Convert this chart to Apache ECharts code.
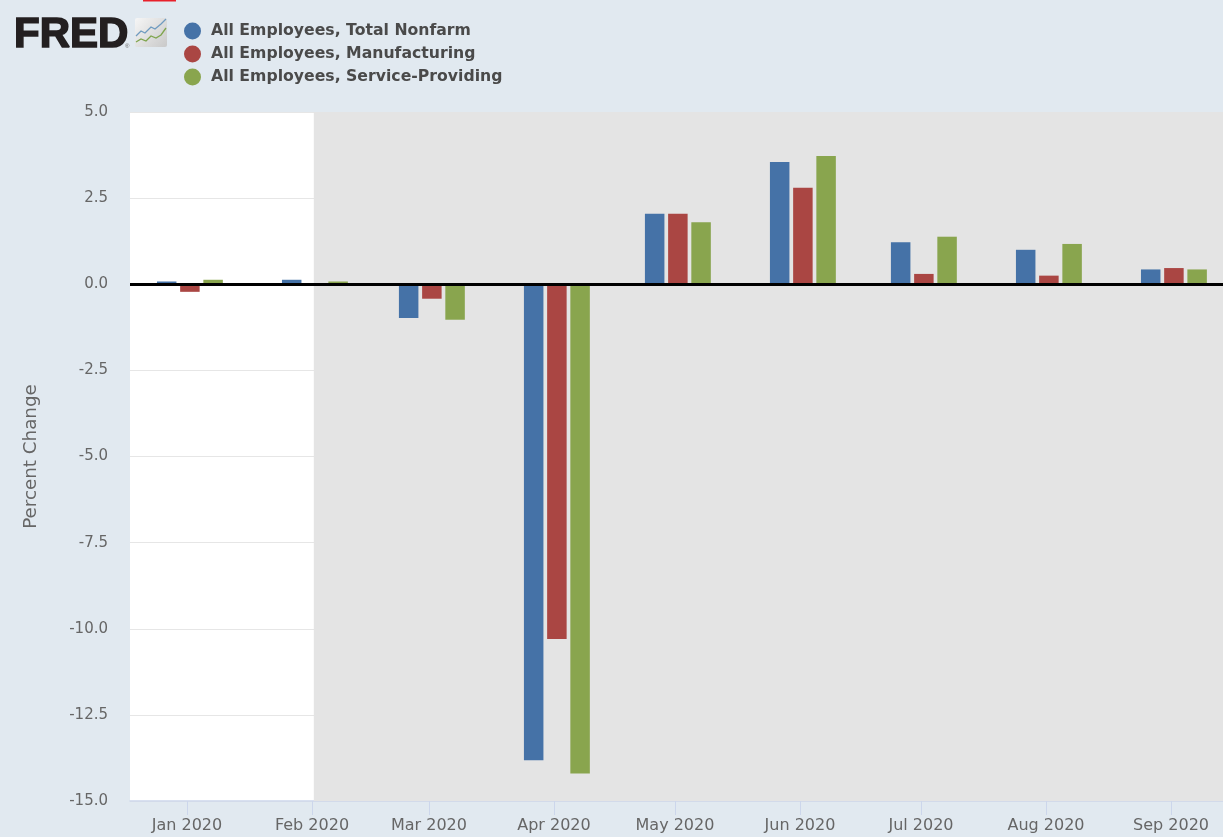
<!DOCTYPE html>
<html><head><meta charset="utf-8">
<style>html,body{margin:0;padding:0;background:#e1e9f0}#c{width:1223px;height:837px}</style>
<script src="https://cdn.jsdelivr.net/npm/echarts@6/dist/echarts.min.js"></script>
</head><body><div id="c"></div>
<script>
const months = ['Jan 2020','Feb 2020','Mar 2020','Apr 2020','May 2020','Jun 2020','Jul 2020','Aug 2020','Sep 2020'];
const monthStarts = ['2020-01-01','2020-02-01','2020-03-01','2020-04-01','2020-05-01','2020-06-01','2020-07-01','2020-08-01','2020-09-01'];
const totalNonfarm = [0.08,0.13,-0.98,-13.82,2.05,3.55,1.22,1.0,0.43];
const manufacturing = [-0.22,0.0,-0.42,-10.3,2.05,2.8,0.3,0.25,0.47];
const serviceProviding = [0.13,0.08,-1.03,-14.2,1.8,3.72,1.38,1.17,0.43];
const seriesNames = ['All Employees, Total Nonfarm','All Employees, Manufacturing','All Employees, Service-Providing'];
const seriesColors = ['#4572a7','#aa4643','#89a54e'];
const recessionStart = '2020-02-01';

const DAY = 86400000, ts = s => Date.parse(s + 'T00:00:00Z');
const barShift = 0.72 * DAY;
const tickValues = monthStarts.map(ts);
const font = '"DejaVu Sans"';
const mk = (vals) => vals.map((v, i) => [ts(monthStarts[i]) + barShift, v]);

const chart = echarts.init(document.getElementById('c'), null, {renderer:'canvas', useUTC:true});
const series = [totalNonfarm, manufacturing, serviceProviding].map((vals, i) => ({
  name: seriesNames[i], type: 'bar', data: mk(vals), barWidth: 19.5, barGap: '19%',
  itemStyle: {color: seriesColors[i]}, animation: false, z: 3
}));
series[0].markArea = {silent:true, z:1, itemStyle:{color:'#e4e4e4', opacity:1}, label:{show:false},
  data:[[{xAxis: ts(recessionStart) + 0.45*DAY},{xAxis: ts('2020-09-15')}]]};
series[0].markLine = {silent:true, symbol:'none', z:6, label:{show:false}, animation:false,
  lineStyle:{color:'#000', width:2.8, type:'solid'}, data:[{yAxis:0}]};

chart.setOption({
  useUTC:true,
  animation:false,
  backgroundColor:'#e1e9f0',
  textStyle:{fontFamily:font},
  grid:{left:130, right:0, top:112, bottom:36, backgroundColor:'#ffffff', show:true, borderWidth:0},
  legend:{show:true, orient:'vertical', left:184, top:22.5, padding:0, itemGap:6, itemWidth:17, itemHeight:17, icon:'circle',
    selectedMode:false, textStyle:{fontFamily:font, fontWeight:'bold', fontSize:15.7, color:'#4a4a4a', padding:[0,0,0,5]},
    data:seriesNames},
  xAxis:{type:'time', min: ts('2020-01-01') - 5.96*DAY, max: ts('2020-09-01') + 4.72*DAY,
    minInterval:28*DAY, maxInterval:32*DAY,
    axisLine:{onZero:false, lineStyle:{color:'#ccd6eb', width:1.5}},
    axisTick:{show:true, length:14, lineStyle:{color:'#ccd6eb'}},
    axisLabel:{hideOverlap:false, showMinLabel:false, showMaxLabel:false, margin:17, color:'#666', fontSize:16, fontFamily:font,
      formatter:(v)=>months[tickValues.indexOf(v)] || ''},
    splitLine:{show:false}},
  yAxis:{type:'value', min:-15, max:5, interval:2.5,
    name:'Percent Change', nameLocation:'middle', nameGap:90, nameRotate:90,
    nameTextStyle:{color:'#666', fontSize:18.3, fontFamily:font},
    axisLine:{show:false}, axisTick:{show:false},
    axisLabel:{margin:22, color:'#666', fontSize:15, fontFamily:font, padding:[2,0,0,0], formatter:v=>v.toFixed(1)},
    splitLine:{lineStyle:{color:'#e6e6e6', width:1}}},
  series,
  graphic:[
    {type:'rect', shape:{x:143, y:0, width:33, height:1.5}, style:{fill:'#e8202a'}, silent:true},
    {type:'text', x:14, y:14, style:{text:'FRED', fontFamily:'"Liberation Sans"', fontWeight:'bold', fontSize:42, fill:'#231f20', stroke:'#231f20', lineWidth:1.6}, silent:true},
    {type:'text', x:125, y:43, style:{text:'®', fontFamily:'"Liberation Sans"', fontSize:6, fill:'#666'}, silent:true},
    {type:'rect', shape:{x:135, y:18, width:32, height:29, r:2}, silent:true,
      style:{fill:new echarts.graphic.LinearGradient(0,0,1,1,[{offset:0,color:'#f6f6f6'},{offset:1,color:'#c9c9c9'}])}},
    {type:'polyline', silent:true, shape:{points:[[136,36],[141,31],[145,33],[151,27],[155,29],[161,24],[166,19]]}, style:{fill:null, stroke:'#6f9bc0', lineWidth:1.3}},
    {type:'polyline', silent:true, shape:{points:[[136,42],[141,39],[146,41],[151,36],[156,38],[161,35],[166,28]]}, style:{fill:null, stroke:'#7ea54d', lineWidth:1.3}}
  ]
});
</script></body></html>
